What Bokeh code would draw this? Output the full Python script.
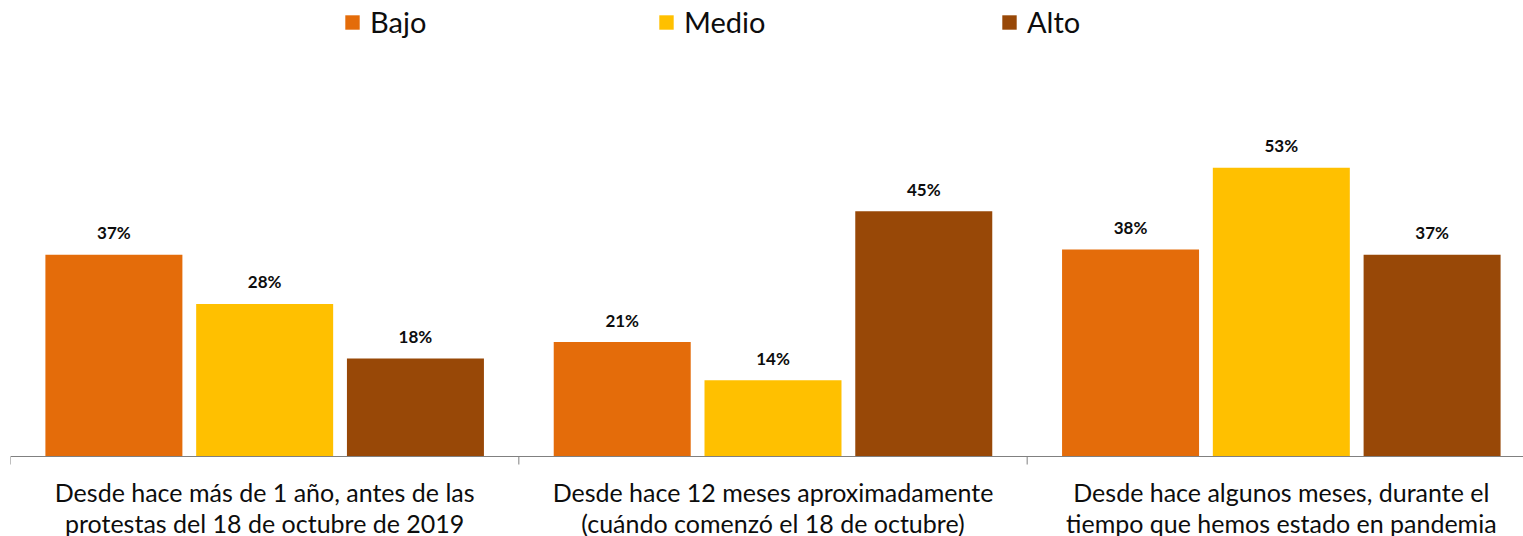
from bokeh.plotting import figure
from bokeh.models import ColumnDataSource, Range1d, Span, Legend, LegendItem
from bokeh.transform import dodge
from bokeh.core.properties import value
from bokeh.embed import file_html
from bokeh.resources import INLINE

categorias_l1 = [
    "Desde hace más de 1 año, antes de las",
    "Desde hace 12 meses aproximadamente",
    "Desde hace algunos meses, durante el",
]
categorias_l2 = [
    "protestas del 18 de octubre de 2019",
    "(cuándo comenzó el 18 de octubre)",
    "tiempo que hemos estado en pandemia",
]
series = ["Bajo", "Medio", "Alto"]
bajo = [37, 21, 38]
medio = [28, 14, 53]
alto = [18, 45, 37]
colores = ["#E46C0A", "#FFC000", "#984807"]

n = len(categorias_l1)
centros = [i + 0.5 for i in range(n)]
limites = list(range(n + 1))
data = dict(x=centros, Bajo=bajo, Medio=medio, Alto=alto,
            l1=categorias_l1, l2=categorias_l2, y0=[0] * n)
for s in series:
    data[s + "_lbl"] = [f"{v}%" for v in data[s]]
src = ColumnDataSource(data)

FONT = "Lato"
W, H = 1523, 536
LEFT = 10
PX_PER_CAT = 508.33
PX_PER_PCT = 5.45
BASE = 456

p = figure(width=W, height=H, output_backend="svg", toolbar_location=None,
           x_range=Range1d(0, (W - LEFT) / PX_PER_CAT),
           y_range=Range1d(-(H - BASE) / PX_PER_PCT, BASE / PX_PER_PCT),
           min_border_left=LEFT, min_border_right=0, min_border_top=0, min_border_bottom=0,
           x_axis_location=None, y_axis_location=None)
p.outline_line_color = None
p.xgrid.visible = False
p.ygrid.visible = False

offs = [-0.2966, 0.0, 0.2966]
legend_x = [333, 647, 990]
for s, c, o, lx in zip(series, colores, offs, legend_x):
    r = p.vbar(x=dodge("x", o, range=p.x_range), top=s, width=0.2695, bottom=0,
               source=src, fill_color=c, line_color=None)
    p.text(x=dodge("x", o, range=p.x_range), y=s, text=s + "_lbl", source=src,
           text_align="center", text_baseline="middle", y_offset=-22,
           text_font=value(FONT), text_font_style="bold", text_font_size="17px",
           text_color="#0d0d0d")
    lg = Legend(items=[LegendItem(label=s, renderers=[r])], location=(lx, H - 5 - 34),
                orientation="horizontal", glyph_width=18, glyph_height=18,
                label_standoff=9, padding=0, margin=0, border_line_color=None,
                background_fill_alpha=0, label_text_font=FONT,
                label_text_font_size="29px", label_height=34,
                label_text_color="#0d0d0d")
    p.add_layout(lg, "center")

# category axis: baseline and boundary ticks
p.add_layout(Span(location=0, dimension="width", line_color="#808080", line_width=1))
p.segment(x0=limites, y0=[0] * len(limites), x1=limites,
          y1=[-8 / PX_PER_PCT] * len(limites), line_color="#808080", line_width=1)

for col, off in (("l1", 35), ("l2", 66)):
    p.text(x="x", y="y0", text=col, source=src, text_align="center",
           text_baseline="middle", y_offset=off, text_font=value(FONT),
           text_font_size="25px", text_color="#0d0d0d")

open("out.html", "w").write(file_html(p, INLINE))
